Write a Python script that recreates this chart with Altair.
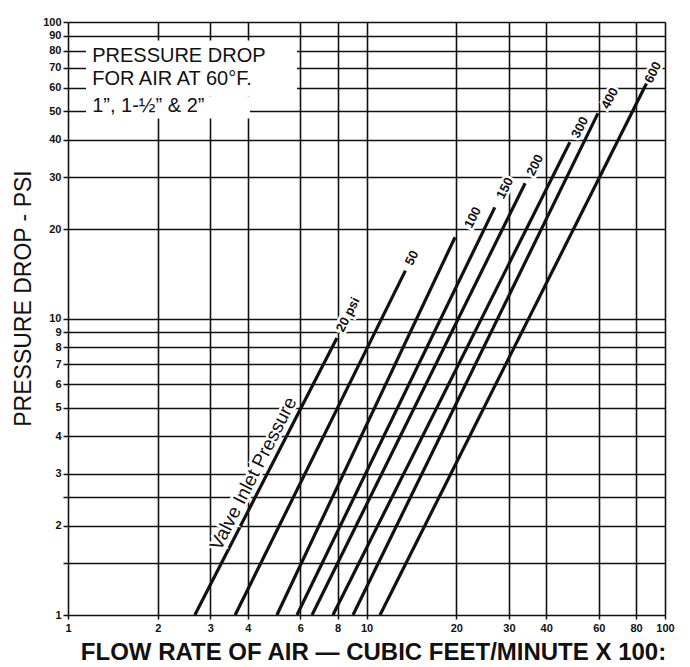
import altair as alt
import pandas as pd

# ---- data ----
psi = ["20", "50", "100", "150", "200", "300", "400", "600"]
flow_start = [2.66, 3.63, 5.01, 5.85, 6.57, 7.72, 9.01, 11.1]
drop_start = [1, 1, 1, 1, 1, 1, 1, 1]
flow_end = [7.96, 13.5, 19.8, 26.9, 34.0, 48.0, 59.6, 87.1]
drop_end = [8.6, 14.5, 18.8, 23.7, 28.6, 39.3, 49.2, 62.6]

label_text = ["20 psi", "50", "100", "150", "200", "300", "400", "600"]
label_flow = [8.67, 14.2, 22.7, 29.1, 36.7, 51.9, 65.4, 91.2]
label_drop = [10.3, 16.0, 21.9, 27.5, 32.9, 44.1, 55.3, 67.6]

x_ticks = [1, 2, 3, 4, 6, 8, 10, 20, 30, 40, 60, 80, 100]
y_ticks = [1, 1.5, 2, 2.5, 3, 4, 5, 6, 7, 8, 9, 10, 20, 30, 40, 50, 60, 70, 80, 90, 100]

box_text = ["PRESSURE DROP", "FOR AIR AT 60°F.", "1\u201d, 1-\u00bd\u201d & 2\u201d"]
box_flow = [1.205, 1.205, 1.205]
box_drop = [76.5, 64.0, 51.9]

valve_text = ["Valve Inlet Pressure"]
valve_flow = [4.18]
valve_drop = [3.0]

# white background areas behind the title block
bg_x1 = [1.149, 1.149]
bg_x2 = [5.85, 4.07]
bg_y1 = [56.1, 47.3]
bg_y2 = [86.7, 56.1]

FONT = "Liberation Sans"
INK = "#111111"

lines_df = pd.DataFrame({"psi": psi, "x": flow_start, "y": drop_start,
                         "x2": flow_end, "y2": drop_end})
labels_df = pd.DataFrame({"t": label_text, "x": label_flow, "y": label_drop})
box_df = pd.DataFrame({"t": box_text, "x": box_flow, "y": box_drop})
valve_df = pd.DataFrame({"t": valve_text, "x": valve_flow, "y": valve_drop})
bg_df = pd.DataFrame({"x": bg_x1, "x2": bg_x2, "y": bg_y1, "y2": bg_y2})

xscale = alt.Scale(type="log", domain=[1, 100], nice=False)
yscale = alt.Scale(type="log", domain=[1, 100], nice=False)

xaxis = alt.Axis(
    values=x_ticks, format="~g", grid=True, gridColor=INK, gridWidth=1.6,
    domain=False, ticks=True, tickSize=4, tickColor=INK, tickWidth=1.5,
    labelFont=FONT, labelFontSize=11, labelFontWeight="bold", labelColor=INK,
    labelPadding=3, labelFlush=False, labelOverlap=False,
    title="FLOW RATE OF AIR \u2014 CUBIC FEET/MINUTE X 100:",
    titleFont=FONT, titleFontSize=24, titleFontWeight="bold", titleColor=INK,
    titleX=305, titleY=37, titleAlign="center", titleBaseline="middle",
)
yaxis = alt.Axis(
    values=y_ticks, format="~g", grid=True, gridColor=INK, gridWidth=1.6,
    domain=False, ticks=True, tickSize=5, tickColor=INK, tickWidth=1.5,
    labelFont=FONT, labelFontSize=11, labelFontWeight="bold", labelColor=INK,
    labelPadding=2, labelFlush=False, labelOverlap=False,
    labelExpr="datum.value == 1.5 || datum.value == 2.5 ? '' : datum.label",
    title="PRESSURE DROP - PSI",
    titleFont=FONT, titleFontSize=23, titleFontWeight="normal", titleColor=INK,
    titleX=-45, titleY=276, titleAngle=270, titleAlign="center", titleBaseline="middle",
)

bg = alt.Chart(bg_df).mark_rect(color="white").encode(
    x=alt.X("x:Q", scale=xscale, axis=xaxis),
    x2="x2:Q",
    y=alt.Y("y:Q", scale=yscale, axis=yaxis),
    y2="y2:Q",
)

lines = alt.Chart(lines_df).mark_rule(color=INK, strokeWidth=3.2).encode(
    x=alt.X("x:Q", scale=xscale), x2="x2:Q",
    y=alt.Y("y:Q", scale=yscale), y2="y2:Q",
)

def text_layer(df, size, weight, align="center", angle=0, halo=True):
    kw = dict(font=FONT, fontSize=size, fontWeight=weight, align=align,
              baseline="middle", angle=angle)
    enc = dict(x=alt.X("x:Q", scale=xscale), y=alt.Y("y:Q", scale=yscale), text="t:N")
    layers = []
    if halo:
        layers.append(alt.Chart(df).mark_text(fill="white", stroke="white",
                                              strokeWidth=5, **kw).encode(**enc))
    layers.append(alt.Chart(df).mark_text(fill=INK, **kw).encode(**enc))
    return layers

layers = [bg, lines]
layers += text_layer(labels_df, 13, "bold", angle=297)
layers += text_layer(valve_df, 19, "normal", angle=297)
layers += text_layer(box_df, 20, "normal", align="left", halo=False)

chart = alt.layer(*layers).properties(
    width=597, height=593,
    autosize=alt.AutoSizeParams(type="none"),
    padding={"left": 60, "top": 14, "right": 17, "bottom": 52},
).configure_view(strokeWidth=0).configure(background="white")

chart.save("out.html", embed_options={"renderer": "svg", "actions": False})
